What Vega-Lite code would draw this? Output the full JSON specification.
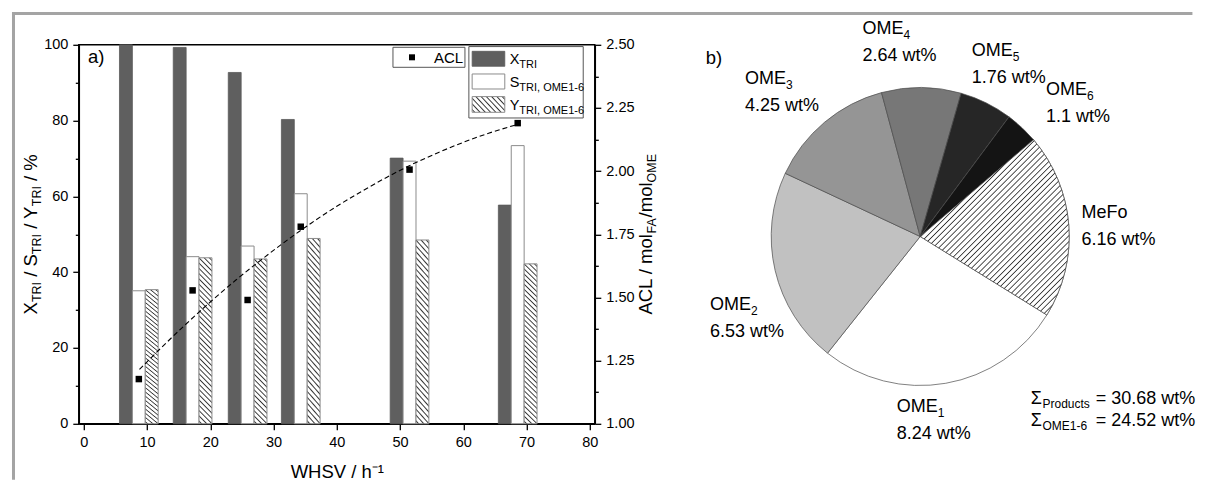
{
"$schema": "https://vega.github.io/schema/vega-lite/v6.json",
"padding": {"left": 9.8, "top": 9.8, "right": 0, "bottom": 0},
"background": "white",
"config": {
  "font": "Liberation Sans",
  "view": {"stroke": "black", "strokeWidth": 1.5},
  "axis": {"domainColor": "black", "domainWidth": 1.5, "tickColor": "black", "tickWidth": 1.3, "labelColor": "black", "labelFont": "Liberation Sans", "labelFontSize": 14.5, "titleFont": "Liberation Sans", "titleFontSize": 18.5, "titleFontWeight": "normal", "titleColor": "black", "grid": false, "labelFlush": false, "labelOverlap": false},
  "text": {"font": "Liberation Sans", "color": "black"}
},
"datasets": {
  "bars": [
    {"whsv": 8.7, "series": "X", "value": 100}, {"whsv": 17.2, "series": "X", "value": 99.3}, {"whsv": 25.9, "series": "X", "value": 92.7},
    {"whsv": 34.3, "series": "X", "value": 80.3}, {"whsv": 51.5, "series": "X", "value": 70.1}, {"whsv": 68.6, "series": "X", "value": 57.7},
    {"whsv": 8.7, "series": "S", "value": 35.1}, {"whsv": 17.2, "series": "S", "value": 44.1}, {"whsv": 25.9, "series": "S", "value": 46.9},
    {"whsv": 34.3, "series": "S", "value": 60.7}, {"whsv": 51.5, "series": "S", "value": 69.3}, {"whsv": 68.6, "series": "S", "value": 73.4},
    {"whsv": 8.7, "series": "Y", "value": 35.4}, {"whsv": 17.2, "series": "Y", "value": 43.8}, {"whsv": 25.9, "series": "Y", "value": 43.5},
    {"whsv": 34.3, "series": "Y", "value": 48.9}, {"whsv": 51.5, "series": "Y", "value": 48.5}, {"whsv": 68.6, "series": "Y", "value": 42.2}
  ],
  "acl": [
    {"whsv": 8.7, "acl": 1.177}, {"whsv": 17.2, "acl": 1.528}, {"whsv": 25.9, "acl": 1.49},
    {"whsv": 34.3, "acl": 1.78}, {"whsv": 51.5, "acl": 2.006}, {"whsv": 68.6, "acl": 2.19}
  ],
  "fit": [
    {"whsv": 8.8, "acl": 1.215}, {"whsv": 12, "acl": 1.295}, {"whsv": 16, "acl": 1.391}, {"whsv": 20, "acl": 1.482},
    {"whsv": 24, "acl": 1.568}, {"whsv": 28, "acl": 1.648}, {"whsv": 32, "acl": 1.724}, {"whsv": 36, "acl": 1.795},
    {"whsv": 40, "acl": 1.861}, {"whsv": 44, "acl": 1.921}, {"whsv": 48, "acl": 1.977}, {"whsv": 52, "acl": 2.028},
    {"whsv": 56, "acl": 2.073}, {"whsv": 60, "acl": 2.114}, {"whsv": 64, "acl": 2.15}, {"whsv": 68.9, "acl": 2.187}
  ],
  "pie": [
    {"name": "MeFo", "base": "MeFo", "sub": "", "wt": 6.16, "wtlabel": "6.16 wt%", "order": 1},
    {"name": "OME1", "base": "OME", "sub": "1", "wt": 8.24, "wtlabel": "8.24 wt%", "order": 2},
    {"name": "OME2", "base": "OME", "sub": "2", "wt": 6.53, "wtlabel": "6.53 wt%", "order": 3},
    {"name": "OME3", "base": "OME", "sub": "3", "wt": 4.25, "wtlabel": "4.25 wt%", "order": 4},
    {"name": "OME4", "base": "OME", "sub": "4", "wt": 2.64, "wtlabel": "2.64 wt%", "order": 5},
    {"name": "OME5", "base": "OME", "sub": "5", "wt": 1.76, "wtlabel": "1.76 wt%", "order": 6},
    {"name": "OME6", "base": "OME", "sub": "6", "wt": 1.1, "wtlabel": "1.1 wt%", "order": 7}
  ]
},
"spacing": 40,
"bounds": "flush",
"hconcat": [
{
  "width": 516,
  "height": 379,
  "layer": [
    {
      "data": {"name": "bars"},
      "encoding": {
        "x": {"field": "whsv", "type": "quantitative", "scale": {"domain": [0, 80], "nice": false, "zero": false},
          "axis": {"values": [0,5,10,15,20,25,30,35,40,45,50,55,60,65,70,75,80], "labelExpr": "datum.value % 10 === 0 ? datum.label : ''",
            "tickSize": {"condition": {"test": "datum.value % 10 !== 0", "value": 3.5}, "value": 6},
            "labelPadding": 6, "title": "WHSV / h⁻¹", "titlePadding": 13}},
        "y": {"field": "value", "type": "quantitative", "scale": {"domain": [0, 100], "nice": false},
          "axis": {"values": [0,10,20,30,40,50,60,70,80,90,100], "labelExpr": "datum.value % 20 === 0 ? datum.label : ''",
            "tickSize": {"condition": {"test": "datum.value % 20 !== 0", "value": 3.5}, "value": 6},
            "labelPadding": 5, "title": null}}
      },
      "layer": [
        {"transform": [{"filter": "datum.series === 'X'"}],
         "mark": {"type": "bar", "width": 12.9, "xOffset": -12.9, "fill": "#5f5f5f", "stroke": "#5a5a5a", "strokeWidth": 0.8}},
        {"transform": [{"filter": "datum.series === 'S'"}],
         "mark": {"type": "bar", "width": 12.9, "xOffset": 0, "fill": "white", "stroke": "#8c8c8c", "strokeWidth": 1}},
        {"transform": [{"filter": "datum.series === 'Y'"}],
         "mark": {"type": "bar", "width": 12.9, "xOffset": 12.9, "stroke": "#8c8c8c", "strokeWidth": 1,
           "fill": {"gradient": "linear", "x1": 0, "y1": 1, "x2": 0.0845, "y2": -0.0721, "stops": [
{"offset":0.0072,"color":"#fff"},{"offset":0.0147,"color":"#333"},{"offset":0.0222,"color":"#fff"},
{"offset":0.0366,"color":"#fff"},{"offset":0.0441,"color":"#333"},{"offset":0.0516,"color":"#fff"},
{"offset":0.0660,"color":"#fff"},{"offset":0.0735,"color":"#333"},{"offset":0.0810,"color":"#fff"},
{"offset":0.0954,"color":"#fff"},{"offset":0.1029,"color":"#333"},{"offset":0.1104,"color":"#fff"},
{"offset":0.1249,"color":"#fff"},{"offset":0.1324,"color":"#333"},{"offset":0.1399,"color":"#fff"},
{"offset":0.1543,"color":"#fff"},{"offset":0.1618,"color":"#333"},{"offset":0.1693,"color":"#fff"},
{"offset":0.1837,"color":"#fff"},{"offset":0.1912,"color":"#333"},{"offset":0.1987,"color":"#fff"},
{"offset":0.2131,"color":"#fff"},{"offset":0.2206,"color":"#333"},{"offset":0.2281,"color":"#fff"},
{"offset":0.2425,"color":"#fff"},{"offset":0.2500,"color":"#333"},{"offset":0.2575,"color":"#fff"},
{"offset":0.2719,"color":"#fff"},{"offset":0.2794,"color":"#333"},{"offset":0.2869,"color":"#fff"},
{"offset":0.3013,"color":"#fff"},{"offset":0.3088,"color":"#333"},{"offset":0.3163,"color":"#fff"},
{"offset":0.3307,"color":"#fff"},{"offset":0.3382,"color":"#333"},{"offset":0.3457,"color":"#fff"},
{"offset":0.3601,"color":"#fff"},{"offset":0.3676,"color":"#333"},{"offset":0.3751,"color":"#fff"},
{"offset":0.3896,"color":"#fff"},{"offset":0.3971,"color":"#333"},{"offset":0.4046,"color":"#fff"},
{"offset":0.4190,"color":"#fff"},{"offset":0.4265,"color":"#333"},{"offset":0.4340,"color":"#fff"},
{"offset":0.4484,"color":"#fff"},{"offset":0.4559,"color":"#333"},{"offset":0.4634,"color":"#fff"},
{"offset":0.4778,"color":"#fff"},{"offset":0.4853,"color":"#333"},{"offset":0.4928,"color":"#fff"},
{"offset":0.5072,"color":"#fff"},{"offset":0.5147,"color":"#333"},{"offset":0.5222,"color":"#fff"},
{"offset":0.5366,"color":"#fff"},{"offset":0.5441,"color":"#333"},{"offset":0.5516,"color":"#fff"},
{"offset":0.5660,"color":"#fff"},{"offset":0.5735,"color":"#333"},{"offset":0.5810,"color":"#fff"},
{"offset":0.5954,"color":"#fff"},{"offset":0.6029,"color":"#333"},{"offset":0.6104,"color":"#fff"},
{"offset":0.6249,"color":"#fff"},{"offset":0.6324,"color":"#333"},{"offset":0.6399,"color":"#fff"},
{"offset":0.6543,"color":"#fff"},{"offset":0.6618,"color":"#333"},{"offset":0.6693,"color":"#fff"},
{"offset":0.6837,"color":"#fff"},{"offset":0.6912,"color":"#333"},{"offset":0.6987,"color":"#fff"},
{"offset":0.7131,"color":"#fff"},{"offset":0.7206,"color":"#333"},{"offset":0.7281,"color":"#fff"},
{"offset":0.7425,"color":"#fff"},{"offset":0.7500,"color":"#333"},{"offset":0.7575,"color":"#fff"},
{"offset":0.7719,"color":"#fff"},{"offset":0.7794,"color":"#333"},{"offset":0.7869,"color":"#fff"},
{"offset":0.8013,"color":"#fff"},{"offset":0.8088,"color":"#333"},{"offset":0.8163,"color":"#fff"},
{"offset":0.8307,"color":"#fff"},{"offset":0.8382,"color":"#333"},{"offset":0.8457,"color":"#fff"},
{"offset":0.8601,"color":"#fff"},{"offset":0.8676,"color":"#333"},{"offset":0.8751,"color":"#fff"},
{"offset":0.8896,"color":"#fff"},{"offset":0.8971,"color":"#333"},{"offset":0.9046,"color":"#fff"},
{"offset":0.9190,"color":"#fff"},{"offset":0.9265,"color":"#333"},{"offset":0.9340,"color":"#fff"},
{"offset":0.9484,"color":"#fff"},{"offset":0.9559,"color":"#333"},{"offset":0.9634,"color":"#fff"},
{"offset":0.9778,"color":"#fff"},{"offset":0.9853,"color":"#333"},{"offset":0.9928,"color":"#fff"}
           ]}}}
      ]
    },
    {
      "encoding": {
        "x": {"field": "whsv", "type": "quantitative"},
        "y": {"field": "acl", "type": "quantitative", "scale": {"domain": [1, 2.5], "nice": false, "zero": false},
          "axis": {"orient": "right", "values": [1,1.125,1.25,1.375,1.5,1.625,1.75,1.875,2,2.125,2.25,2.375,2.5],
            "labelExpr": "(datum.value * 8) % 2 === 0 ? format(datum.value, '.2f') : ''",
            "tickSize": {"condition": {"test": "(datum.value * 8) % 2 !== 0", "value": 3.5}, "value": 6},
            "labelPadding": 5, "title": null}}
      },
      "layer": [
        {"data": {"name": "fit"}, "mark": {"type": "line", "color": "black", "strokeWidth": 1.1, "strokeDash": [5, 3], "interpolate": "monotone"}},
        {"data": {"name": "acl"}, "mark": {"type": "square", "size": 42, "color": "black", "opacity": 1}}
      ]
    },
    {
      "layer": [
        {"data": {"values": [{}]}, "mark": {"type": "rule", "color": "#a4a4a4", "strokeWidth": 3, "strokeCap": "square"},
         "encoding": {"x": {"datum": -11.116, "type": "quantitative"}, "x2": {"datum": 175.04},
           "y": {"datum": 108.23, "type": "quantitative", "scale": {"domain": [0, 100], "nice": false, "zero": false}, "axis": null}}},
        {"data": {"values": [{}]}, "mark": {"type": "rule", "color": "#a4a4a4", "strokeWidth": 3, "strokeCap": "square"},
         "encoding": {"x": {"datum": -11.116, "type": "quantitative"},
           "y": {"datum": 108.23, "type": "quantitative", "scale": {"domain": [0, 100], "nice": false, "zero": false}, "axis": null}, "y2": {"datum": -14.38}}},
        {"data": {"values": [{}]}, "mark": {"type": "rect", "fill": "white", "stroke": "#555", "strokeWidth": 1},
         "encoding": {"x": {"datum": 48.88, "type": "quantitative"}, "x2": {"datum": 60.26},
           "y": {"datum": 99.34, "type": "quantitative", "scale": {"domain": [0, 100], "nice": false, "zero": false}, "axis": null}, "y2": {"datum": 94.06}}},
        {"data": {"values": [{}]}, "mark": {"type": "square", "size": 36, "color": "black", "opacity": 1},
         "encoding": {"x": {"datum": 51.89, "type": "quantitative"},
           "y": {"datum": 96.7, "type": "quantitative", "scale": {"domain": [0, 100], "nice": false, "zero": false}, "axis": null}}},
        {"data": {"values": [{}]}, "mark": {"type": "text", "text": "ACL", "fontSize": 15, "align": "left", "baseline": "alphabetic"},
         "encoding": {"x": {"datum": 55.35, "type": "quantitative"},
           "y": {"datum": 95.12, "type": "quantitative", "scale": {"domain": [0, 100], "nice": false, "zero": false}, "axis": null}}},
        {"data": {"values": [{}]}, "mark": {"type": "rect", "fill": "white", "stroke": "#555", "strokeWidth": 1},
         "encoding": {"x": {"datum": 60.88, "type": "quantitative"}, "x2": {"datum": 78.96},
           "y": {"datum": 99.53, "type": "quantitative", "scale": {"domain": [0, 100], "nice": false, "zero": false}, "axis": null}, "y2": {"datum": 80.69}}},
        {"data": {"values": [{}]}, "mark": {"type": "rect", "fill": "#5f5f5f", "stroke": "#5a5a5a", "strokeWidth": 0.8},
         "encoding": {"x": {"datum": 61.4, "type": "quantitative"}, "x2": {"datum": 66.56},
           "y": {"datum": 98.28, "type": "quantitative", "scale": {"domain": [0, 100], "nice": false, "zero": false}, "axis": null}, "y2": {"datum": 94.33}}},
        {"data": {"values": [{}]}, "mark": {"type": "rect", "fill": "white", "stroke": "#8c8c8c", "strokeWidth": 1},
         "encoding": {"x": {"datum": 61.4, "type": "quantitative"}, "x2": {"datum": 66.56},
           "y": {"datum": 92.3, "type": "quantitative", "scale": {"domain": [0, 100], "nice": false, "zero": false}, "axis": null}, "y2": {"datum": 88.34}}},
        {"data": {"values": [{}]}, "mark": {"type": "rect", "stroke": "#8c8c8c", "strokeWidth": 1,
           "fill": {"gradient": "linear", "x1": 0, "y1": 1, "x2": 1.2057, "y2": 0.4569, "stops": [
{"offset":0.0276,"color":"#fff"},{"offset":0.0556,"color":"#333"},{"offset":0.0836,"color":"#fff"},
{"offset":0.1387,"color":"#fff"},{"offset":0.1667,"color":"#333"},{"offset":0.1947,"color":"#fff"},
{"offset":0.2498,"color":"#fff"},{"offset":0.2778,"color":"#333"},{"offset":0.3058,"color":"#fff"},
{"offset":0.3609,"color":"#fff"},{"offset":0.3889,"color":"#333"},{"offset":0.4169,"color":"#fff"},
{"offset":0.4720,"color":"#fff"},{"offset":0.5000,"color":"#333"},{"offset":0.5280,"color":"#fff"},
{"offset":0.5831,"color":"#fff"},{"offset":0.6111,"color":"#333"},{"offset":0.6391,"color":"#fff"},
{"offset":0.6942,"color":"#fff"},{"offset":0.7222,"color":"#333"},{"offset":0.7502,"color":"#fff"},
{"offset":0.8053,"color":"#fff"},{"offset":0.8333,"color":"#333"},{"offset":0.8613,"color":"#fff"},
{"offset":0.9164,"color":"#fff"},{"offset":0.9444,"color":"#333"},{"offset":0.9724,"color":"#fff"}
           ]}},
         "encoding": {"x": {"datum": 61.4, "type": "quantitative"}, "x2": {"datum": 66.56},
           "y": {"datum": 86.33, "type": "quantitative", "scale": {"domain": [0, 100], "nice": false, "zero": false}, "axis": null}, "y2": {"datum": 82.19}}},
        {"data": {"values": [{}]}, "mark": {"type": "text", "text": "X", "fontSize": 14.5, "align": "left", "baseline": "alphabetic"},
         "encoding": {"x": {"datum": 67.33, "type": "quantitative"},
           "y": {"datum": 94.93, "type": "quantitative", "scale": {"domain": [0, 100], "nice": false, "zero": false}, "axis": null}}},
        {"data": {"values": [{}]}, "mark": {"type": "text", "text": "TRI", "fontSize": 11, "align": "left", "baseline": "alphabetic", "dx": 9.7, "dy": 3.5},
         "encoding": {"x": {"datum": 67.33, "type": "quantitative"},
           "y": {"datum": 94.93, "type": "quantitative", "scale": {"domain": [0, 100], "nice": false, "zero": false}, "axis": null}}},
        {"data": {"values": [{}]}, "mark": {"type": "text", "text": "S", "fontSize": 14.5, "align": "left", "baseline": "alphabetic"},
         "encoding": {"x": {"datum": 67.33, "type": "quantitative"},
           "y": {"datum": 88.79, "type": "quantitative", "scale": {"domain": [0, 100], "nice": false, "zero": false}, "axis": null}}},
        {"data": {"values": [{}]}, "mark": {"type": "text", "text": "TRI, OME1-6", "fontSize": 11, "align": "left", "baseline": "alphabetic", "dx": 9.7, "dy": 3.5},
         "encoding": {"x": {"datum": 67.33, "type": "quantitative"},
           "y": {"datum": 88.79, "type": "quantitative", "scale": {"domain": [0, 100], "nice": false, "zero": false}, "axis": null}}},
        {"data": {"values": [{}]}, "mark": {"type": "text", "text": "Y", "fontSize": 14.5, "align": "left", "baseline": "alphabetic"},
         "encoding": {"x": {"datum": 67.33, "type": "quantitative"},
           "y": {"datum": 82.72, "type": "quantitative", "scale": {"domain": [0, 100], "nice": false, "zero": false}, "axis": null}}},
        {"data": {"values": [{}]}, "mark": {"type": "text", "text": "TRI, OME1-6", "fontSize": 11, "align": "left", "baseline": "alphabetic", "dx": 9.7, "dy": 3.5},
         "encoding": {"x": {"datum": 67.33, "type": "quantitative"},
           "y": {"datum": 82.72, "type": "quantitative", "scale": {"domain": [0, 100], "nice": false, "zero": false}, "axis": null}}},
        {"data": {"values": [{}]}, "mark": {"type": "text", "text": "a)", "fontSize": 18.5, "align": "left", "baseline": "alphabetic"},
         "encoding": {"x": {"datum": 0.67, "type": "quantitative"},
           "y": {"datum": 95.12, "type": "quantitative", "scale": {"domain": [0, 100], "nice": false, "zero": false}, "axis": null}}},
        {"data": {"values": [{}]}, "mark": {"type": "text", "text": "X", "fontSize": 18.5, "align": "left", "baseline": "alphabetic", "angle": 270, "dx": -80.09},
         "encoding": {"x": {"datum": -7.44, "type": "quantitative"},
           "y": {"datum": 50, "type": "quantitative", "scale": {"domain": [0, 100], "nice": false, "zero": false}, "axis": null}}},
        {"data": {"values": [{}]}, "mark": {"type": "text", "text": "TRI", "fontSize": 12.5, "align": "left", "baseline": "alphabetic", "angle": 270, "dx": -67.75, "dy": 4},
         "encoding": {"x": {"datum": -7.44, "type": "quantitative"},
           "y": {"datum": 50, "type": "quantitative", "scale": {"domain": [0, 100], "nice": false, "zero": false}, "axis": null}}},
        {"data": {"values": [{}]}, "mark": {"type": "text", "text": "/ S", "fontSize": 18.5, "align": "left", "baseline": "alphabetic", "angle": 270, "dx": -42.47},
         "encoding": {"x": {"datum": -7.44, "type": "quantitative"},
           "y": {"datum": 50, "type": "quantitative", "scale": {"domain": [0, 100], "nice": false, "zero": false}, "axis": null}}},
        {"data": {"values": [{}]}, "mark": {"type": "text", "text": "TRI", "fontSize": 12.5, "align": "left", "baseline": "alphabetic", "angle": 270, "dx": -19.84, "dy": 4},
         "encoding": {"x": {"datum": -7.44, "type": "quantitative"},
           "y": {"datum": 50, "type": "quantitative", "scale": {"domain": [0, 100], "nice": false, "zero": false}, "axis": null}}},
        {"data": {"values": [{}]}, "mark": {"type": "text", "text": "/ Y", "fontSize": 18.5, "align": "left", "baseline": "alphabetic", "angle": 270, "dx": 5.44},
         "encoding": {"x": {"datum": -7.44, "type": "quantitative"},
           "y": {"datum": 50, "type": "quantitative", "scale": {"domain": [0, 100], "nice": false, "zero": false}, "axis": null}}},
        {"data": {"values": [{}]}, "mark": {"type": "text", "text": "TRI", "fontSize": 12.5, "align": "left", "baseline": "alphabetic", "angle": 270, "dx": 28.07, "dy": 4},
         "encoding": {"x": {"datum": -7.44, "type": "quantitative"},
           "y": {"datum": 50, "type": "quantitative", "scale": {"domain": [0, 100], "nice": false, "zero": false}, "axis": null}}},
        {"data": {"values": [{}]}, "mark": {"type": "text", "text": "/ %", "fontSize": 18.5, "align": "left", "baseline": "alphabetic", "angle": 270, "dx": 53.35},
         "encoding": {"x": {"datum": -7.44, "type": "quantitative"},
           "y": {"datum": 50, "type": "quantitative", "scale": {"domain": [0, 100], "nice": false, "zero": false}, "axis": null}}},
        {"data": {"values": [{}]}, "mark": {"type": "text", "text": "ACL / mol", "fontSize": 18.5, "align": "left", "baseline": "alphabetic", "angle": 270, "dx": -80.3},
         "encoding": {"x": {"datum": 89.77, "type": "quantitative"},
           "y": {"datum": 50, "type": "quantitative", "scale": {"domain": [0, 100], "nice": false, "zero": false}, "axis": null}}},
        {"data": {"values": [{}]}, "mark": {"type": "text", "text": "FA", "fontSize": 12.5, "align": "left", "baseline": "alphabetic", "angle": 270, "dx": 0.9, "dy": 4},
         "encoding": {"x": {"datum": 89.77, "type": "quantitative"},
           "y": {"datum": 50, "type": "quantitative", "scale": {"domain": [0, 100], "nice": false, "zero": false}, "axis": null}}},
        {"data": {"values": [{}]}, "mark": {"type": "text", "text": "/mol", "fontSize": 18.5, "align": "left", "baseline": "alphabetic", "angle": 270, "dx": 16.9},
         "encoding": {"x": {"datum": 89.77, "type": "quantitative"},
           "y": {"datum": 50, "type": "quantitative", "scale": {"domain": [0, 100], "nice": false, "zero": false}, "axis": null}}},
        {"data": {"values": [{}]}, "mark": {"type": "text", "text": "OME", "fontSize": 12.5, "align": "left", "baseline": "alphabetic", "angle": 270, "dx": 51.85, "dy": 4},
         "encoding": {"x": {"datum": 89.77, "type": "quantitative"},
           "y": {"datum": 50, "type": "quantitative", "scale": {"domain": [0, 100], "nice": false, "zero": false}, "axis": null}}}
      ]
    }
  ],
  "resolve": {"scale": {"y": "independent"}}
},
{
  "width": 570.8,
  "height": 383.4,
  "view": {"stroke": null},
  "encoding": {
    "theta": {"field": "wt", "type": "quantitative", "stack": true, "scale": {"range": [0.8639, 7.1471]}},
    "order": {"field": "order", "type": "quantitative"}
  },
  "layer": [
    {"data": {"name": "pie"},
     "mark": {"type": "arc", "outerRadius": 149, "stroke": "#4a4a4a", "strokeWidth": 0.7},
     "encoding": {
       "fill": {"field": "name", "type": "nominal", "legend": null,
         "scale": {"domain": ["MeFo","OME1","OME2","OME3","OME4","OME5","OME6"], "range": ["#ffffff","#ffffff","#c1c1c1","#959595","#777777","#262626","#141414"]}}
     }},
    {"data": {"name": "pie"},
     "mark": {"type": "arc", "outerRadius": 149, "stroke": "#4a4a4a", "strokeWidth": 0.7,
       "fill": {"gradient": "linear", "x1": 0, "y1": 0, "x2": 0.913, "y2": 1.074, "stops": [
{"offset":0.0054,"color":"#fff"},{"offset":0.0091,"color":"#333"},{"offset":0.0128,"color":"#fff"},
{"offset":0.0236,"color":"#fff"},{"offset":0.0273,"color":"#333"},{"offset":0.0310,"color":"#fff"},
{"offset":0.0418,"color":"#fff"},{"offset":0.0455,"color":"#333"},{"offset":0.0492,"color":"#fff"},
{"offset":0.0599,"color":"#fff"},{"offset":0.0636,"color":"#333"},{"offset":0.0673,"color":"#fff"},
{"offset":0.0781,"color":"#fff"},{"offset":0.0818,"color":"#333"},{"offset":0.0855,"color":"#fff"},
{"offset":0.0963,"color":"#fff"},{"offset":0.1000,"color":"#333"},{"offset":0.1037,"color":"#fff"},
{"offset":0.1145,"color":"#fff"},{"offset":0.1182,"color":"#333"},{"offset":0.1219,"color":"#fff"},
{"offset":0.1327,"color":"#fff"},{"offset":0.1364,"color":"#333"},{"offset":0.1401,"color":"#fff"},
{"offset":0.1508,"color":"#fff"},{"offset":0.1545,"color":"#333"},{"offset":0.1582,"color":"#fff"},
{"offset":0.1690,"color":"#fff"},{"offset":0.1727,"color":"#333"},{"offset":0.1764,"color":"#fff"},
{"offset":0.1872,"color":"#fff"},{"offset":0.1909,"color":"#333"},{"offset":0.1946,"color":"#fff"},
{"offset":0.2054,"color":"#fff"},{"offset":0.2091,"color":"#333"},{"offset":0.2128,"color":"#fff"},
{"offset":0.2236,"color":"#fff"},{"offset":0.2273,"color":"#333"},{"offset":0.2310,"color":"#fff"},
{"offset":0.2418,"color":"#fff"},{"offset":0.2455,"color":"#333"},{"offset":0.2492,"color":"#fff"},
{"offset":0.2599,"color":"#fff"},{"offset":0.2636,"color":"#333"},{"offset":0.2673,"color":"#fff"},
{"offset":0.2781,"color":"#fff"},{"offset":0.2818,"color":"#333"},{"offset":0.2855,"color":"#fff"},
{"offset":0.2963,"color":"#fff"},{"offset":0.3000,"color":"#333"},{"offset":0.3037,"color":"#fff"},
{"offset":0.3145,"color":"#fff"},{"offset":0.3182,"color":"#333"},{"offset":0.3219,"color":"#fff"},
{"offset":0.3327,"color":"#fff"},{"offset":0.3364,"color":"#333"},{"offset":0.3401,"color":"#fff"},
{"offset":0.3508,"color":"#fff"},{"offset":0.3545,"color":"#333"},{"offset":0.3582,"color":"#fff"},
{"offset":0.3690,"color":"#fff"},{"offset":0.3727,"color":"#333"},{"offset":0.3764,"color":"#fff"},
{"offset":0.3872,"color":"#fff"},{"offset":0.3909,"color":"#333"},{"offset":0.3946,"color":"#fff"},
{"offset":0.4054,"color":"#fff"},{"offset":0.4091,"color":"#333"},{"offset":0.4128,"color":"#fff"},
{"offset":0.4236,"color":"#fff"},{"offset":0.4273,"color":"#333"},{"offset":0.4310,"color":"#fff"},
{"offset":0.4418,"color":"#fff"},{"offset":0.4455,"color":"#333"},{"offset":0.4492,"color":"#fff"},
{"offset":0.4599,"color":"#fff"},{"offset":0.4636,"color":"#333"},{"offset":0.4673,"color":"#fff"},
{"offset":0.4781,"color":"#fff"},{"offset":0.4818,"color":"#333"},{"offset":0.4855,"color":"#fff"},
{"offset":0.4963,"color":"#fff"},{"offset":0.5000,"color":"#333"},{"offset":0.5037,"color":"#fff"},
{"offset":0.5145,"color":"#fff"},{"offset":0.5182,"color":"#333"},{"offset":0.5219,"color":"#fff"},
{"offset":0.5327,"color":"#fff"},{"offset":0.5364,"color":"#333"},{"offset":0.5401,"color":"#fff"},
{"offset":0.5508,"color":"#fff"},{"offset":0.5545,"color":"#333"},{"offset":0.5582,"color":"#fff"},
{"offset":0.5690,"color":"#fff"},{"offset":0.5727,"color":"#333"},{"offset":0.5764,"color":"#fff"},
{"offset":0.5872,"color":"#fff"},{"offset":0.5909,"color":"#333"},{"offset":0.5946,"color":"#fff"},
{"offset":0.6054,"color":"#fff"},{"offset":0.6091,"color":"#333"},{"offset":0.6128,"color":"#fff"},
{"offset":0.6236,"color":"#fff"},{"offset":0.6273,"color":"#333"},{"offset":0.6310,"color":"#fff"},
{"offset":0.6418,"color":"#fff"},{"offset":0.6455,"color":"#333"},{"offset":0.6492,"color":"#fff"},
{"offset":0.6599,"color":"#fff"},{"offset":0.6636,"color":"#333"},{"offset":0.6673,"color":"#fff"},
{"offset":0.6781,"color":"#fff"},{"offset":0.6818,"color":"#333"},{"offset":0.6855,"color":"#fff"},
{"offset":0.6963,"color":"#fff"},{"offset":0.7000,"color":"#333"},{"offset":0.7037,"color":"#fff"},
{"offset":0.7145,"color":"#fff"},{"offset":0.7182,"color":"#333"},{"offset":0.7219,"color":"#fff"},
{"offset":0.7327,"color":"#fff"},{"offset":0.7364,"color":"#333"},{"offset":0.7401,"color":"#fff"},
{"offset":0.7508,"color":"#fff"},{"offset":0.7545,"color":"#333"},{"offset":0.7582,"color":"#fff"},
{"offset":0.7690,"color":"#fff"},{"offset":0.7727,"color":"#333"},{"offset":0.7764,"color":"#fff"},
{"offset":0.7872,"color":"#fff"},{"offset":0.7909,"color":"#333"},{"offset":0.7946,"color":"#fff"},
{"offset":0.8054,"color":"#fff"},{"offset":0.8091,"color":"#333"},{"offset":0.8128,"color":"#fff"},
{"offset":0.8236,"color":"#fff"},{"offset":0.8273,"color":"#333"},{"offset":0.8310,"color":"#fff"},
{"offset":0.8418,"color":"#fff"},{"offset":0.8455,"color":"#333"},{"offset":0.8492,"color":"#fff"},
{"offset":0.8599,"color":"#fff"},{"offset":0.8636,"color":"#333"},{"offset":0.8673,"color":"#fff"},
{"offset":0.8781,"color":"#fff"},{"offset":0.8818,"color":"#333"},{"offset":0.8855,"color":"#fff"},
{"offset":0.8963,"color":"#fff"},{"offset":0.9000,"color":"#333"},{"offset":0.9037,"color":"#fff"},
{"offset":0.9145,"color":"#fff"},{"offset":0.9182,"color":"#333"},{"offset":0.9219,"color":"#fff"},
{"offset":0.9327,"color":"#fff"},{"offset":0.9364,"color":"#333"},{"offset":0.9401,"color":"#fff"},
{"offset":0.9508,"color":"#fff"},{"offset":0.9545,"color":"#333"},{"offset":0.9582,"color":"#fff"},
{"offset":0.9690,"color":"#fff"},{"offset":0.9727,"color":"#333"},{"offset":0.9764,"color":"#fff"},
{"offset":0.9872,"color":"#fff"},{"offset":0.9909,"color":"#333"},{"offset":0.9946,"color":"#fff"}
       ]}},
     "encoding": {
       "detail": {"field": "name", "type": "nominal"},
       "opacity": {"condition": {"test": "datum.name === 'MeFo'", "value": 1}, "value": 0}
     }},
    {"data": {"name": "pie"}, "mark": {"type": "text", "radius": 198, "align": "left", "baseline": "alphabetic", "dx": -36, "dy": -3},
     "encoding": {"detail": {"field": "name", "type": "nominal"},
       "size": {"condition": {"test": "datum.name === 'MeFo' || datum.name === 'OME5'", "value": 18}, "value": 0},
       "text": {"condition": {"test": "datum.name !== 'MeFo' && datum.name !== 'OME5'", "value": ""}, "field": "base", "type": "nominal"}}},
    {"data": {"name": "pie"}, "mark": {"type": "text", "radius": 198, "align": "left", "baseline": "alphabetic", "dx": 5, "dy": 2},
     "encoding": {"detail": {"field": "name", "type": "nominal"},
       "size": {"condition": {"test": "datum.name === 'MeFo' || datum.name === 'OME5'", "value": 12}, "value": 0},
       "text": {"condition": {"test": "datum.name !== 'MeFo' && datum.name !== 'OME5'", "value": ""}, "field": "sub", "type": "nominal"}}},
    {"data": {"name": "pie"}, "mark": {"type": "text", "radius": 198, "align": "left", "baseline": "alphabetic", "dx": -36, "dy": 24},
     "encoding": {"detail": {"field": "name", "type": "nominal"},
       "size": {"condition": {"test": "datum.name === 'MeFo' || datum.name === 'OME5'", "value": 18}, "value": 0},
       "text": {"condition": {"test": "datum.name !== 'MeFo' && datum.name !== 'OME5'", "value": ""}, "field": "wtlabel", "type": "nominal"}}},
    {"data": {"name": "pie"}, "mark": {"type": "text", "radius": 198, "align": "left", "baseline": "alphabetic", "dx": -57.5, "dy": -19.7},
     "encoding": {"detail": {"field": "name", "type": "nominal"},
       "size": {"condition": {"test": "datum.name === 'OME1'", "value": 18}, "value": 0},
       "text": {"condition": {"test": "datum.name !== 'OME1'", "value": ""}, "field": "base", "type": "nominal"}}},
    {"data": {"name": "pie"}, "mark": {"type": "text", "radius": 198, "align": "left", "baseline": "alphabetic", "dx": -16.5, "dy": -14.7},
     "encoding": {"detail": {"field": "name", "type": "nominal"},
       "size": {"condition": {"test": "datum.name === 'OME1'", "value": 12}, "value": 0},
       "text": {"condition": {"test": "datum.name !== 'OME1'", "value": ""}, "field": "sub", "type": "nominal"}}},
    {"data": {"name": "pie"}, "mark": {"type": "text", "radius": 198, "align": "left", "baseline": "alphabetic", "dx": -57.5, "dy": 7.3},
     "encoding": {"detail": {"field": "name", "type": "nominal"},
       "size": {"condition": {"test": "datum.name === 'OME1'", "value": 18}, "value": 0},
       "text": {"condition": {"test": "datum.name !== 'OME1'", "value": ""}, "field": "wtlabel", "type": "nominal"}}},
    {"data": {"name": "pie"}, "mark": {"type": "text", "radius": 198, "align": "left", "baseline": "alphabetic", "dx": -17.5, "dy": 28.2},
     "encoding": {"detail": {"field": "name", "type": "nominal"},
       "size": {"condition": {"test": "datum.name === 'OME2'", "value": 18}, "value": 0},
       "text": {"condition": {"test": "datum.name !== 'OME2'", "value": ""}, "field": "base", "type": "nominal"}}},
    {"data": {"name": "pie"}, "mark": {"type": "text", "radius": 198, "align": "left", "baseline": "alphabetic", "dx": 23.5, "dy": 33.2},
     "encoding": {"detail": {"field": "name", "type": "nominal"},
       "size": {"condition": {"test": "datum.name === 'OME2'", "value": 12}, "value": 0},
       "text": {"condition": {"test": "datum.name !== 'OME2'", "value": ""}, "field": "sub", "type": "nominal"}}},
    {"data": {"name": "pie"}, "mark": {"type": "text", "radius": 198, "align": "left", "baseline": "top", "dx": -17.5, "dy": 41},
     "encoding": {"detail": {"field": "name", "type": "nominal"},
       "size": {"condition": {"test": "datum.name === 'OME2'", "value": 18}, "value": 0},
       "text": {"condition": {"test": "datum.name !== 'OME2'", "value": ""}, "field": "wtlabel", "type": "nominal"}}},
    {"data": {"name": "pie"}, "mark": {"type": "text", "radius": 198, "align": "left", "baseline": "alphabetic", "dx": -48, "dy": -1},
     "encoding": {"detail": {"field": "name", "type": "nominal"},
       "size": {"condition": {"test": "datum.name === 'OME3'", "value": 18}, "value": 0},
       "text": {"condition": {"test": "datum.name !== 'OME3'", "value": ""}, "field": "base", "type": "nominal"}}},
    {"data": {"name": "pie"}, "mark": {"type": "text", "radius": 198, "align": "left", "baseline": "alphabetic", "dx": -7, "dy": 4},
     "encoding": {"detail": {"field": "name", "type": "nominal"},
       "size": {"condition": {"test": "datum.name === 'OME3'", "value": 12}, "value": 0},
       "text": {"condition": {"test": "datum.name !== 'OME3'", "value": ""}, "field": "sub", "type": "nominal"}}},
    {"data": {"name": "pie"}, "mark": {"type": "text", "radius": 198, "align": "left", "baseline": "alphabetic", "dx": -48, "dy": 26},
     "encoding": {"detail": {"field": "name", "type": "nominal"},
       "size": {"condition": {"test": "datum.name === 'OME3'", "value": 18}, "value": 0},
       "text": {"condition": {"test": "datum.name !== 'OME3'", "value": ""}, "field": "wtlabel", "type": "nominal"}}},
    {"data": {"name": "pie"}, "mark": {"type": "text", "radius": 198, "align": "left", "baseline": "alphabetic", "dx": -59.3, "dy": -4.7},
     "encoding": {"detail": {"field": "name", "type": "nominal"},
       "size": {"condition": {"test": "datum.name === 'OME4'", "value": 18}, "value": 0},
       "text": {"condition": {"test": "datum.name !== 'OME4'", "value": ""}, "field": "base", "type": "nominal"}}},
    {"data": {"name": "pie"}, "mark": {"type": "text", "radius": 198, "align": "left", "baseline": "alphabetic", "dx": -18.3, "dy": 0.3},
     "encoding": {"detail": {"field": "name", "type": "nominal"},
       "size": {"condition": {"test": "datum.name === 'OME4'", "value": 12}, "value": 0},
       "text": {"condition": {"test": "datum.name !== 'OME4'", "value": ""}, "field": "sub", "type": "nominal"}}},
    {"data": {"name": "pie"}, "mark": {"type": "text", "radius": 198, "align": "left", "baseline": "alphabetic", "dx": -59.3, "dy": 22.3},
     "encoding": {"detail": {"field": "name", "type": "nominal"},
       "size": {"condition": {"test": "datum.name === 'OME4'", "value": 18}, "value": 0},
       "text": {"condition": {"test": "datum.name !== 'OME4'", "value": ""}, "field": "wtlabel", "type": "nominal"}}},
    {"data": {"name": "pie"}, "mark": {"type": "text", "radius": 198, "align": "left", "baseline": "alphabetic", "dx": -9.3, "dy": 3.5},
     "encoding": {"detail": {"field": "name", "type": "nominal"},
       "size": {"condition": {"test": "datum.name === 'OME6'", "value": 18}, "value": 0},
       "text": {"condition": {"test": "datum.name !== 'OME6'", "value": ""}, "field": "base", "type": "nominal"}}},
    {"data": {"name": "pie"}, "mark": {"type": "text", "radius": 198, "align": "left", "baseline": "alphabetic", "dx": 31.7, "dy": 8.5},
     "encoding": {"detail": {"field": "name", "type": "nominal"},
       "size": {"condition": {"test": "datum.name === 'OME6'", "value": 12}, "value": 0},
       "text": {"condition": {"test": "datum.name !== 'OME6'", "value": ""}, "field": "sub", "type": "nominal"}}},
    {"data": {"name": "pie"}, "mark": {"type": "text", "radius": 198, "align": "left", "baseline": "alphabetic", "dx": -9.3, "dy": 30.5},
     "encoding": {"detail": {"field": "name", "type": "nominal"},
       "size": {"condition": {"test": "datum.name === 'OME6'", "value": 18}, "value": 0},
       "text": {"condition": {"test": "datum.name !== 'OME6'", "value": ""}, "field": "wtlabel", "type": "nominal"}}},
    {"data": {"values": [{}]}, "mark": {"type": "text", "text": "b)", "fontSize": 18.5, "align": "left", "baseline": "alphabetic"},
     "encoding": {"theta": null, "order": null,
       "x": {"datum": 0.1244, "type": "quantitative", "scale": {"domain": [0, 1], "nice": false, "zero": false}, "axis": null},
       "y": {"datum": 0.9491, "type": "quantitative", "scale": {"domain": [0, 1], "nice": false, "zero": false}, "axis": null}}},
    {"data": {"values": [{}]}, "mark": {"type": "text", "text": "Σ", "fontSize": 18, "align": "left", "baseline": "alphabetic"},
     "encoding": {"theta": null, "order": null,
       "x": {"datum": 0.6938, "type": "quantitative", "scale": {"domain": [0, 1], "nice": false, "zero": false}, "axis": null},
       "y": {"datum": 0.0631, "type": "quantitative", "scale": {"domain": [0, 1], "nice": false, "zero": false}, "axis": null}}},
    {"data": {"values": [{}]}, "mark": {"type": "text", "text": "Products", "fontSize": 12, "align": "left", "baseline": "alphabetic", "dx": 11.7, "dy": 4},
     "encoding": {"theta": null, "order": null,
       "x": {"datum": 0.6938, "type": "quantitative", "scale": {"domain": [0, 1], "nice": false, "zero": false}, "axis": null},
       "y": {"datum": 0.0631, "type": "quantitative", "scale": {"domain": [0, 1], "nice": false, "zero": false}, "axis": null}}},
    {"data": {"values": [{}]}, "mark": {"type": "text", "text": "= 30.68 wt%", "fontSize": 18, "align": "left", "baseline": "alphabetic", "dx": 65},
     "encoding": {"theta": null, "order": null,
       "x": {"datum": 0.6938, "type": "quantitative", "scale": {"domain": [0, 1], "nice": false, "zero": false}, "axis": null},
       "y": {"datum": 0.0631, "type": "quantitative", "scale": {"domain": [0, 1], "nice": false, "zero": false}, "axis": null}}},
    {"data": {"values": [{}]}, "mark": {"type": "text", "text": "Σ", "fontSize": 18, "align": "left", "baseline": "alphabetic"},
     "encoding": {"theta": null, "order": null,
       "x": {"datum": 0.6938, "type": "quantitative", "scale": {"domain": [0, 1], "nice": false, "zero": false}, "axis": null},
       "y": {"datum": 0.0068, "type": "quantitative", "scale": {"domain": [0, 1], "nice": false, "zero": false}, "axis": null}}},
    {"data": {"values": [{}]}, "mark": {"type": "text", "text": "OME1-6", "fontSize": 12, "align": "left", "baseline": "alphabetic", "dx": 11.7, "dy": 4},
     "encoding": {"theta": null, "order": null,
       "x": {"datum": 0.6938, "type": "quantitative", "scale": {"domain": [0, 1], "nice": false, "zero": false}, "axis": null},
       "y": {"datum": 0.0068, "type": "quantitative", "scale": {"domain": [0, 1], "nice": false, "zero": false}, "axis": null}}},
    {"data": {"values": [{}]}, "mark": {"type": "text", "text": "= 24.52 wt%", "fontSize": 18, "align": "left", "baseline": "alphabetic", "dx": 65},
     "encoding": {"theta": null, "order": null,
       "x": {"datum": 0.6938, "type": "quantitative", "scale": {"domain": [0, 1], "nice": false, "zero": false}, "axis": null},
       "y": {"datum": 0.0068, "type": "quantitative", "scale": {"domain": [0, 1], "nice": false, "zero": false}, "axis": null}}}
  ]
}
]
}
